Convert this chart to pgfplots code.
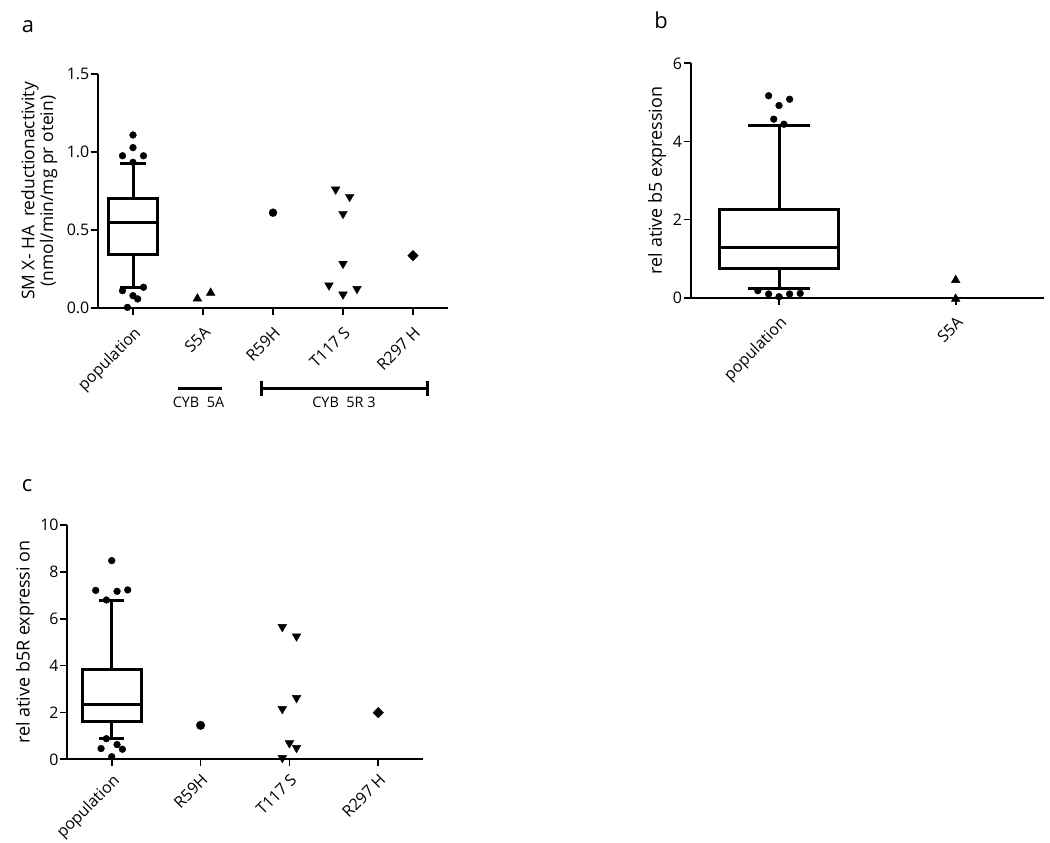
\documentclass[border=0pt]{standalone}
\usepackage{fontspec}
\setmainfont{Open Sans}
\usepackage{pgfplots}
\pgfplotsset{compat=1.18}
\usepgfplotslibrary{statistics}
\pgfplotsset{
 gp/.style={
  scale only axis, anchor=south west, clip=false,
  axis x line=bottom, axis y line=left,
  axis line style={-, line width=1.8bp, black},
  tick style={black, line width=1.8bp},
  tick align=outside, major tick length=7bp,
  enlargelimits=false,
  /pgf/number format/assume math mode=true,
  y tick label style={font=\fontsize{16}{19}\selectfont},
  x tick label style={font=\fontsize{16}{19}\selectfont},
  label style={font=\fontsize{18}{20}\selectfont},
  xticklabel style={rotate=45, anchor=north east, inner sep=1bp},
  xticklabel shift=9bp,
  yticklabel style={inner sep=1.5bp},
  ylabel style={anchor=center, align=center},
 },
 bx/.style={black, line width=3bp, solid, fill=none, mark=none},
 dots/.style={only marks, mark=*, mark size=3.4bp, black, mark options={fill=black, draw=black}},
 tri/.style={only marks, mark=triangle*, mark size=5bp, black, mark options={fill=black, draw=black}},
 trd/.style={only marks, mark=triangle*, mark size=5bp, black, mark options={fill=black, draw=black, rotate=180}},
 dia/.style={only marks, mark=square*, mark size=3.7bp, black, mark options={fill=black, draw=black, rotate=45}},
}
\begin{document}
\begin{tikzpicture}
\useasboundingbox (0bp,0bp) rectangle (1050bp,-843bp);
% ---------------- panel a ----------------
\begin{axis}[gp, at={(98bp,-308bp)}, width=350bp, height=234bp,
  xmin=-0.5, xmax=4.5, ymin=0, ymax=1.5,
  ytick={0,0.5,1,1.5},
  y tick label style={/pgf/number format/.cd, fixed, fixed zerofill, precision=1, /tikz/.cd},
  xtick={0,1,2,3,4}, xticklabels={population,S5A,R59H,T117 S,R297 H},
  ylabel={SM X- HA \ reductionactivity\\(nmol/min/mg pr otein)},
  ylabel style={font=\fontsize{17.5}{19}\selectfont, at={(axis description cs:-0.168,0.5)}}]
\addplot[bx, boxplot prepared={draw direction=y, draw position=0, median=0.547, upper quartile=0.70, lower quartile=0.34, upper whisker=0.925, lower whisker=0.133, box extend=0.71, whisker extend=0.37}] coordinates {};
\addplot[dots] coordinates {(0,1.109) (0,1.028) (-0.15,0.976) (0.15,0.976) (0,0.934) (0.15,0.133) (-0.15,0.111) (0,0.079) (0.067,0.058) (-0.08,0.004)};
\addplot[tri] coordinates {(0.92,0.060) (1.11,0.097)};
\addplot[dots, mark size=4bp] coordinates {(2,0.611)};
\addplot[trd] coordinates {(2.895,0.760) (3.095,0.713) (3,0.604) (3,0.284) (2.8,0.145) (3.2,0.123) (3,0.087)};
\addplot[dia] coordinates {(4,0.336)};
\end{axis}
\draw[line width=3bp] (177.7bp,-388bp) -- (222bp,-388bp);
\draw[line width=3bp] (261.7bp,-388bp) -- (427.7bp,-388bp);
\draw[line width=3bp] (261.7bp,-380.5bp) -- (261.7bp,-395.5bp);
\draw[line width=3bp] (427.7bp,-380.5bp) -- (427.7bp,-395.5bp);
\node[font=\fontsize{14.5}{17}\selectfont] at (198.5bp,-402bp) {CYB \ 5A};
\node[font=\fontsize{14.5}{17}\selectfont] at (344bp,-402bp) {CYB \ 5R 3};
\node[font=\fontsize{22}{26}\selectfont] at (28bp,-27bp) {a};
% ---------------- panel b ----------------
\begin{axis}[gp, at={(690.7bp,-297.7bp)}, width=353.3bp, height=234.4bp,
  xmin=-0.5, xmax=1.5, ymin=0, ymax=6,
  ytick={0,2,4,6},
  xtick={0,1}, xticklabels={population,S5A},
  ylabel={rel ative b5 expression},
  ylabel style={at={(axis description cs:-0.095,0.5)}}]
\addplot[bx, boxplot prepared={draw direction=y, draw position=0, median=1.29, upper quartile=2.246, lower quartile=0.743, upper whisker=4.40, lower whisker=0.24, box extend=0.669, whisker extend=0.35}] coordinates {};
\addplot[dots] coordinates {(-0.059,5.17) (0,4.92) (0.06,5.08) (-0.03,4.57) (0.028,4.44) (-0.12,0.18) (-0.059,0.095) (0,0.026) (0.06,0.095) (0.12,0.11)};
\addplot[tri] coordinates {(1,0.45) (1,-0.03)};
\end{axis}
\node[font=\fontsize{22}{26}\selectfont] at (661bp,-20bp) {b};
% ---------------- panel c ----------------
\begin{axis}[gp, at={(67.3bp,-759.3bp)}, width=355.4bp, height=234.3bp,
  xmin=-0.5, xmax=3.5, ymin=0, ymax=10,
  ytick={0,2,4,6,8,10}, xticklabel shift=5bp,
  xtick={0,1,2,3}, xticklabels={population,R59H,T117 S,R297 H},
  ylabel={rel ative b5R expressi on},
  ylabel style={at={(axis description cs:-0.119,0.5)}}]
\addplot[bx, boxplot prepared={draw direction=y, draw position=0, median=2.36, upper quartile=3.84, lower quartile=1.62, upper whisker=6.77, lower whisker=0.90, box extend=0.66, whisker extend=0.28}] coordinates {};
\addplot[dots] coordinates {(0,8.48) (-0.18,7.21) (0.06,7.17) (0.18,7.23) (-0.06,6.8) (-0.06,0.88) (-0.12,0.46) (0.06,0.63) (0.12,0.43) (0,0.11)};
\addplot[dots, mark size=4.3bp] coordinates {(1,1.45)};
\addplot[trd] coordinates {(1.92,5.65) (2.08,5.25) (2.08,2.62) (1.92,2.15) (2,0.69) (2.08,0.49) (1.92,0.06)};
\addplot[dia] coordinates {(3,1.99)};
\end{axis}
\node[font=\fontsize{22}{26}\selectfont] at (27bp,-486bp) {c};
\end{tikzpicture}
\end{document}
